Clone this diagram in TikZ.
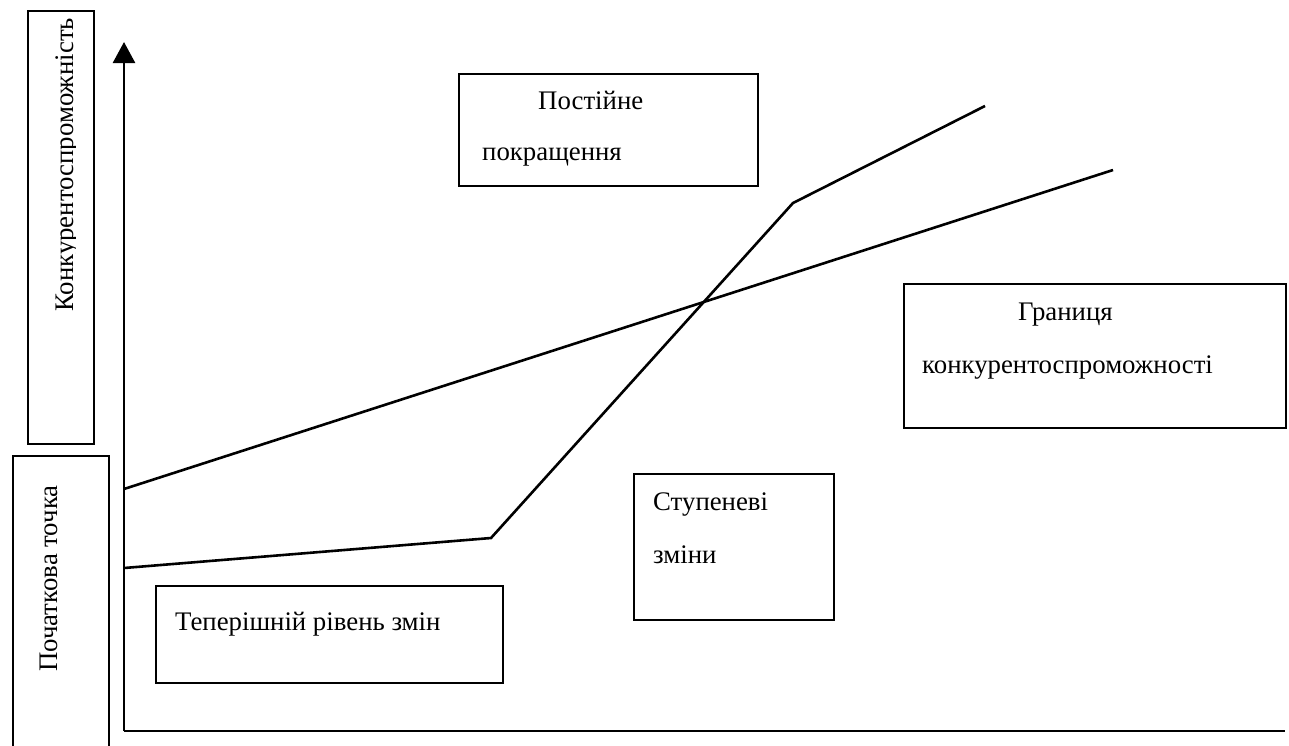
\documentclass[tikz,border=0pt]{standalone}
\usepackage{fontspec}
\setmainfont{Liberation Serif}
\usetikzlibrary{arrows.meta}
\tikzset{
  boxstyle/.style={draw, line width=1.6pt, rectangle, inner sep=0pt},
  lbl/.style={inner sep=0pt, font=\fontsize{26.8}{30}\selectfont},
  curve/.style={line width=2.6pt, line join=miter},
  axis/.style={line width=2.6pt},
}
\begin{document}
\begin{tikzpicture}[x=1pt,y=-1pt]
\useasboundingbox (0,0) rectangle (1289,745);
% boxes
\node[boxstyle, minimum width=66pt, minimum height=433pt, anchor=north west] (bK) at (27,10) {};
\node[boxstyle, minimum width=96pt, minimum height=300pt, anchor=north west] (bP) at (12,455) {};
\node[boxstyle, minimum width=299pt, minimum height=112pt, anchor=north west] (bPost) at (458,73) {};
\node[boxstyle, minimum width=382pt, minimum height=144pt, anchor=north west] (bGr) at (903,283) {};
\node[boxstyle, minimum width=200pt, minimum height=146pt, anchor=north west] (bSt) at (633,473) {};
\node[boxstyle, minimum width=347pt, minimum height=97pt, anchor=north west] (bTe) at (155,585) {};
% vertical texts
\begin{scope}
\clip (27,10) rectangle (75.5,443);
\node[lbl, rotate=90, anchor=base west] (tK) at (73,312) {Конкурентоспроможність};
\end{scope}
\node[lbl, rotate=90, anchor=base west] (tP) at (57,672) {Початкова точка};
% horizontal texts
\node[lbl, anchor=base west] (t1) at (538,109) {Постійне};
\node[lbl, anchor=base west] (t2) at (482,160) {покращення};
\node[lbl, anchor=base west] (t3) at (1018,320) {Границя};
\node[lbl, anchor=base west] (t4) at (922,373) {конкурентоспроможності};
\node[lbl, anchor=base west] (t5) at (653,510) {Ступеневі};
\node[lbl, anchor=base west] (t6) at (653,563) {зміни};
\node[lbl, anchor=base west] (t7) at (175,630) {Теперішній рівень змін};
% axes
\coordinate (O) at (124,731);
\coordinate (Ytip) at (124,42);
\coordinate (Xend) at (1285,731);
\draw[axis, -{Triangle[width=22pt,length=21pt]}] (O) -- (Ytip);
\draw[axis] (O) -- (Xend);
% curves
\coordinate (u0) at (124,489);
\coordinate (u1) at (1113,170);
\coordinate (l0) at (124,568);
\coordinate (l1) at (491,538);
\coordinate (l2) at (793,203);
\coordinate (l3) at (985,106);
\draw[curve] (u0) -- (u1);
\draw[curve] (l0) -- (l1) -- (l2) -- (l3);
\end{tikzpicture}
\end{document}
